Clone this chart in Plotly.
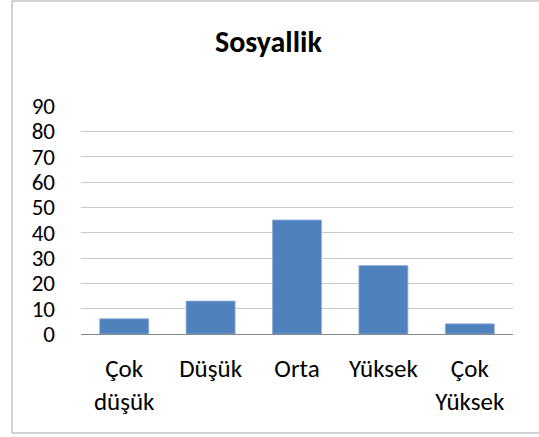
import plotly.graph_objects as go

categories = ["Çok<br>düşük", "Düşük", "Orta", "Yüksek", "Çok<br>Yüksek"]
values = [6, 13, 45, 27, 4]
y_ticks = [0, 10, 20, 30, 40, 50, 60, 70, 80, 90]
title_text = "Sosyallik"

FONT = "Carlito, Calibri, Lato, sans-serif"

fig = go.Figure(
    go.Bar(
        x=categories,
        y=values,
        marker=dict(color="#4f81bd", line=dict(color="#8eaedb", width=0.8)),
        hoverinfo="skip",
    )
)

W, H = 539, 437
L, R, T, B = 81, 26, 106, 103
pw, ph = W - L - R, H - T - B

fig.update_layout(
    width=W,
    height=H,
    margin=dict(l=L, r=R, t=T, b=B, pad=0),
    paper_bgcolor="white",
    plot_bgcolor="white",
    bargap=0.433,
    showlegend=False,
    title=dict(
        text="<b>" + title_text + "</b>",
        x=0.498,
        xref="container",
        xanchor="center",
        y=1 - 41 / H,
        yref="container",
        yanchor="middle",
        font=dict(family=FONT, size=30, color="black"),
    ),
    font=dict(family=FONT, color="black"),
    shapes=[
        dict(
            type="rect",
            xref="paper",
            yref="paper",
            x0=(12 - L) / pw,
            x1=(W + 10 - L) / pw,
            y0=(H - B - 433) / ph,
            y1=(H - B - 1) / ph,
            line=dict(color="#a6a6a6", width=1),
            fillcolor="rgba(0,0,0,0)",
            layer="below",
        )
    ],
)

fig.update_yaxes(
    range=[0, 90],
    tickvals=y_ticks,
    showgrid=True,
    gridcolor="#c9c9c9",
    gridwidth=1,
    zeroline=False,
    showline=False,
    ticks="",
    ticklabelstandoff=25,
    tickfont=dict(family=FONT, size=23, color="black"),
)
fig.update_xaxes(
    showline=True,
    linecolor="#868686",
    linewidth=1,
    showgrid=False,
    ticks="",
    ticklabelstandoff=12,
    tickfont=dict(family=FONT, size=25, color="black"),
)

fig.write_html(
    "out.html",
    config={"displayModeBar": False, "staticPlot": True},
    post_script="document.body.style.margin='0';document.body.style.overflow='hidden';",
)
